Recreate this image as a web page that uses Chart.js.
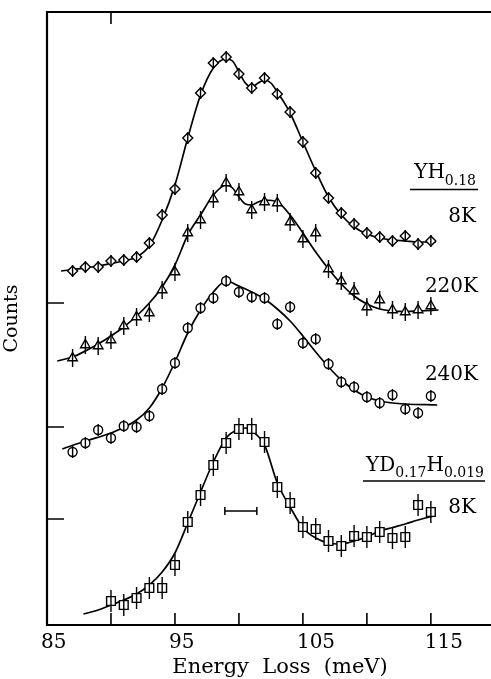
<!DOCTYPE html>
<html>
<head>
<meta charset="utf-8">
<script src="https://cdn.jsdelivr.net/npm/chart.js@4/dist/chart.umd.min.js"></script>
<style>
    body { margin: 0; background: white; }
    #wrap { width: 491px; height: 679px; }
</style>
</head>
<body>
<div id="wrap"><canvas id="loss_chart" width="491" height="679"></canvas></div>
<script>
// energy loss (meV) of the measured points
const energy_yh = [87, 88, 89, 90, 91, 92, 93, 94, 95, 96, 97, 98, 99, 100, 101, 102, 103, 104, 105, 106, 107, 108, 109, 110, 111, 112, 113, 114, 115];
const energy_yd = [90, 91, 92, 93, 94, 95, 96, 97, 98, 99, 100, 101, 102, 103, 104, 105, 106, 107, 108, 109, 110, 111, 112, 113, 114, 115];

// counts, arbitrary units (curves are offset vertically)
const counts_yh_8k = [354, 358, 358, 364, 365, 368, 382, 410, 436, 487, 532, 562, 568, 551, 537, 547, 531, 513, 483, 452, 427, 412, 401, 392, 388, 384, 389, 381, 384];
const counts_yh_220k = [267, 280, 279, 285, 299, 308, 312, 335, 353, 392, 405, 426, 442, 433, 415, 423, 422, 403, 386, 392, 356, 344, 334, 318, 325, 315, 313, 315, 319];
const counts_yh_240k = [173, 182, 195, 187, 199, 198, 209, 236, 262, 297, 317, 327, 344, 333, 328, 327, 301, 318, 282, 286, 261, 243, 238, 228, 222, 230, 216, 212, 229];
const counts_yd_8k = [24, 20, 27, 37, 37, 60, 103, 130, 160, 182, 196, 196, 183, 138, 122, 98, 96, 84, 79, 89, 88, 93, 87, 88, 120, 113];

// error bar half heights (counts)
const err_yh_8k = 6;
const err_yh_220k = 9;
const err_yh_240k = 6;
const err_yd_8k = 11;

// fitted curves
const fit_8k_x = [86.1, 87, 88, 89, 90, 91, 92, 93, 94, 95, 96, 97, 98, 99, 99.5, 100, 100.5, 101, 101.5, 102, 102.5, 103, 104, 105, 106, 107, 108, 109, 110, 111, 112, 113, 114, 115.4];
const fit_8k_y = [354, 355.5, 357, 359, 361.5, 364, 368, 379, 405, 440, 487, 530, 557, 566, 564, 553, 542, 538, 542, 545, 542, 533, 512, 483, 454, 428, 410, 398, 391, 387, 385, 384, 383, 383];
const fit_220k_x = [85.8, 87, 88, 89, 90, 91, 92, 93, 94, 95, 96, 97, 98, 99, 99.5, 100, 100.5, 101, 101.5, 102, 103, 104, 105, 106, 107, 108, 109, 110, 111, 112, 113, 114, 115.6];
const fit_220k_y = [264, 268, 274, 281, 289, 298, 309, 322, 338, 360, 390, 410, 430, 440, 437, 428, 421, 420, 423, 425, 423, 410, 392, 373, 356, 341, 329, 321, 316, 314, 313.5, 314, 315];
const fit_240k_x = [86.2, 88, 90, 92, 93, 94, 95, 96, 97, 98, 99, 100, 101, 102, 103, 104, 105, 106, 107, 108, 109, 110, 111, 112, 113, 115.5];
const fit_240k_y = [176, 184, 192, 205, 217, 237, 263, 292, 315, 333, 344, 339, 333, 326, 316, 304, 289, 273, 258, 245, 235, 228, 224, 222, 221, 220];
const fit_yd_x = [87.85, 89, 90, 91, 92, 93, 94, 95, 96, 97, 98, 99, 100, 100.5, 101, 102, 103, 104, 105, 106, 107, 108, 109, 110, 111, 112, 113, 114, 115.25];
const fit_yd_y = [11, 15, 20, 25, 31, 40, 53, 72, 102, 133, 163, 187, 196, 197, 194, 180, 142, 118, 97, 87, 82, 81, 84, 88, 94, 97.5, 101, 105, 109];

// instrumental resolution bar
const resolution_x = [98.9, 101.4];
const resolution_y = [114, 114];

const x_tick_labels = [85, 95, 105, 115];
const x_tick_marks = [90, 95, 100, 105, 110, 115];
const x_top_marks = [90];
const y_tick_marks = [106, 198, 322];

const serif = "'DejaVu Serif', 'Liberation Serif', serif";

function to_points(xs, ys) {
    return xs.map((x, i) => ({x: x, y: ys[i]}));
}

function marker_set(label, xs, ys, style, radius) {
    return {
        label: label,
        data: to_points(xs, ys),
        showLine: false,
        pointStyle: style,
        pointRadius: radius,
        pointBackgroundColor: 'white',
        pointBorderColor: 'black',
        pointBorderWidth: 1.4,
    };
}

function fit_set(label, xs, ys) {
    return {
        label: label,
        data: to_points(xs, ys),
        showLine: true,
        borderColor: 'black',
        borderWidth: 1.7,
        pointRadius: 0,
        cubicInterpolationMode: 'monotone',
    };
}

// draws a label like YH_0.18, right aligned
function draw_formula(ctx, parts, x_right, y_base, size) {
    const main_font = size + 'px ' + serif;
    const sub_font = Math.round(size * 0.72) + 'px ' + serif;
    let width = 0;
    parts.forEach(p => {
        ctx.font = p[1] ? sub_font : main_font;
        width += ctx.measureText(p[0]).width;
    });
    let x = x_right - width;
    ctx.textAlign = 'left';
    ctx.textBaseline = 'alphabetic';
    parts.forEach(p => {
        ctx.font = p[1] ? sub_font : main_font;
        ctx.fillText(p[0], x, p[1] ? y_base + 6.5 : y_base);
        x += ctx.measureText(p[0]).width;
    });
}

const frame_plugin = {
    id: 'frame',
    afterDatasetsDraw(chart) {
        const {ctx, chartArea, scales} = chart;
        const xs = scales.x;
        const ys = scales.y;
        ctx.save();

        // vertical error bars through the markers
        const errs = [err_yh_8k, err_yh_220k, err_yh_240k, err_yd_8k];
        ctx.strokeStyle = 'black';
        ctx.lineWidth = 1.4;
        errs.forEach((err, i) => {
            const ds = chart.data.datasets[i];
            ds.data.forEach(p => {
                const px = xs.getPixelForValue(p.x);
                ctx.beginPath();
                ctx.moveTo(px, ys.getPixelForValue(p.y + err));
                ctx.lineTo(px, ys.getPixelForValue(p.y - err));
                ctx.stroke();
            });
        });

        // frame, open on the right where the figure is cut
        ctx.lineWidth = 2.2;
        ctx.beginPath();
        ctx.moveTo(chart.width, chartArea.top);
        ctx.lineTo(chartArea.left, chartArea.top);
        ctx.lineTo(chartArea.left, chartArea.bottom);
        ctx.lineTo(chart.width, chartArea.bottom);
        ctx.stroke();

        // inward ticks
        ctx.lineWidth = 1.6;
        ctx.beginPath();
        x_tick_marks.forEach(v => {
            const px = xs.getPixelForValue(v);
            ctx.moveTo(px, chartArea.bottom);
            ctx.lineTo(px, chartArea.bottom - 12);
        });
        x_top_marks.forEach(v => {
            const px = xs.getPixelForValue(v);
            ctx.moveTo(px, chartArea.top);
            ctx.lineTo(px, chartArea.top + 12);
        });
        y_tick_marks.forEach(v => {
            const py = ys.getPixelForValue(v);
            ctx.moveTo(chartArea.left, py);
            ctx.lineTo(chartArea.left + 17, py);
        });
        ctx.stroke();

        // curve labels
        ctx.fillStyle = 'black';
        draw_formula(ctx, [['YH', false], ['0.18', true]], 476, 178, 20);
        draw_formula(ctx, [['8K', false]], 476, 221.5, 20);
        draw_formula(ctx, [['220K', false]], 478, 291.5, 20);
        draw_formula(ctx, [['240K', false]], 478, 380, 20);
        draw_formula(ctx, [['YD', false], ['0.17', true], ['H', false], ['0.019', true]], 484, 470.5, 20);
        draw_formula(ctx, [['8K', false]], 476, 513, 20);

        ctx.lineWidth = 1.5;
        ctx.beginPath();
        ctx.moveTo(410, 189.5);
        ctx.lineTo(478, 189.5);
        ctx.moveTo(363, 481);
        ctx.lineTo(485, 481);
        ctx.stroke();

        // x axis title
        ctx.font = '21px ' + serif;
        ctx.textAlign = 'center';
        ctx.fillText('Energy  Loss  (meV)', 280, 673);

        ctx.restore();
    }
};

const chart = new Chart(document.getElementById('loss_chart'), {
    type: 'scatter',
    data: {
        datasets: [
            marker_set('YH0.18 8K', energy_yh, counts_yh_8k, 'rectRot', 5),
            marker_set('YH0.18 220K', energy_yh, counts_yh_220k, 'triangle', 5.5),
            marker_set('YH0.18 240K', energy_yh, counts_yh_240k, 'circle', 4.5),
            marker_set('YD0.17H0.019 8K', energy_yd, counts_yd_8k, 'rect', 6.2),
            fit_set('fit 8K', fit_8k_x, fit_8k_y),
            fit_set('fit 220K', fit_220k_x, fit_220k_y),
            fit_set('fit 240K', fit_240k_x, fit_240k_y),
            fit_set('fit YD 8K', fit_yd_x, fit_yd_y),
            {
                label: 'resolution',
                data: to_points(resolution_x, resolution_y),
                showLine: true,
                borderColor: 'black',
                borderWidth: 1.5,
                pointStyle: 'line',
                pointRotation: 90,
                pointRadius: 4,
                pointBorderColor: 'black',
                pointBorderWidth: 1.5,
            },
        ]
    },
    options: {
        responsive: false,
        animation: false,
        events: [],
        devicePixelRatio: 1,
        layout: {
            autoPadding: false,
            padding: {top: 12, right: 0, bottom: 0, left: 0}
        },
        plugins: {
            legend: {display: false},
            tooltip: {enabled: false},
        },
        scales: {
            x: {
                type: 'linear',
                min: 85,
                max: 119.7,
                grid: {display: false, drawTicks: false},
                border: {display: false},
                afterBuildTicks: (scale) => {
                    scale.ticks = x_tick_labels.map(v => ({value: v}));
                },
                afterFit: (scale) => {
                    scale.height = 54;
                    scale.paddingLeft = 0;
                    scale.paddingRight = 0;
                },
                ticks: {
                    color: 'black',
                    padding: 6,
                    align: 'start',
                    labelOffset: -6,
                    maxRotation: 0,
                    font: {family: serif, size: 20},
                },
            },
            y: {
                type: 'linear',
                min: 0,
                max: 613,
                grid: {display: false, drawTicks: false},
                border: {display: false},
                ticks: {display: false},
                afterFit: (scale) => {
                    scale.width = 47;
                    scale.paddingTop = 0;
                    scale.paddingBottom = 0;
                },
                title: {
                    display: true,
                    text: 'Counts',
                    color: 'black',
                    padding: {top: 1, bottom: 0},
                    font: {family: serif, size: 19},
                },
            },
        }
    },
    plugins: [frame_plugin]
});
</script>
</body>
</html>
